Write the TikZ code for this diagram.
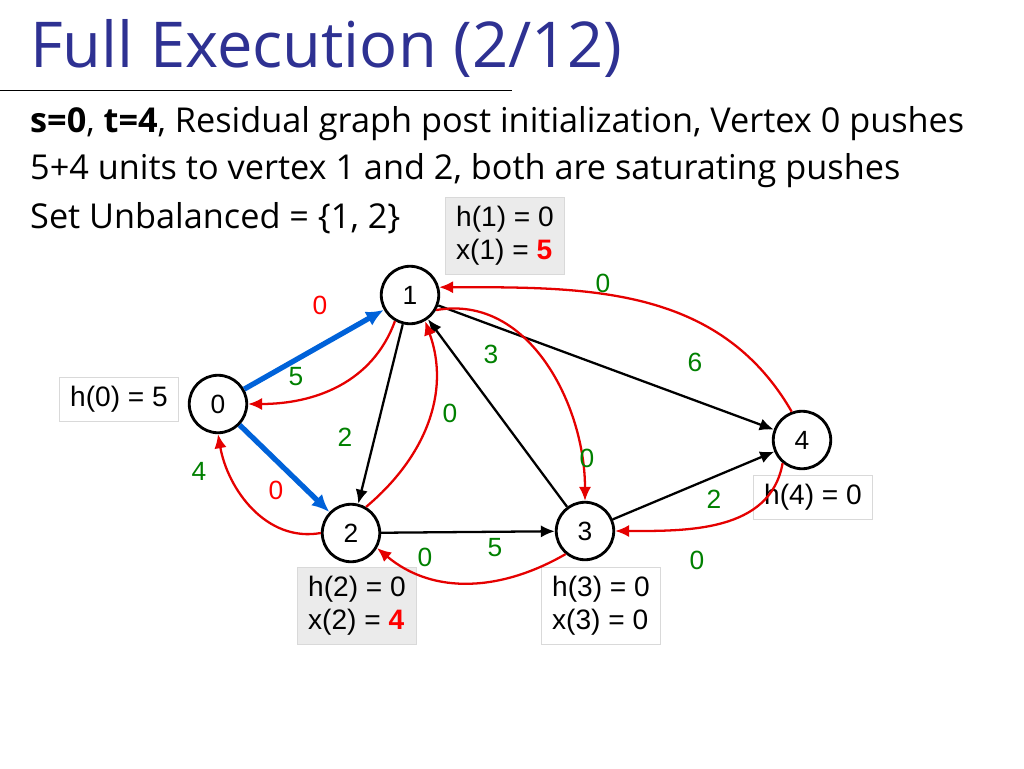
\documentclass[tikz,border=0pt]{standalone}
\usepackage{fontspec}
\setmainfont{Open Sans}
\newfontfamily\arialfont{Liberation Sans}
\usetikzlibrary{arrows.meta}
\begin{document}
\begin{tikzpicture}[x=0.02cm,y=-0.02cm,
    vertex/.style={circle,draw,line width=1.6pt,fill=white,minimum size=1.15cm,inner sep=0pt,font=\arialfont\fontsize{15}{15}\selectfont},
    info/.style={draw=black!15,fill=#1,align=left,font=\arialfont\fontsize{16}{19}\selectfont,inner xsep=6pt,inner ysep=5pt},
    info/.default=white,
    flow/.style={line width=3pt,draw=blue!55!cyan!85!black,-{Latex[length=10pt,width=9pt]}},
    edge/.style={line width=1.3pt,-{Latex[length=8pt,width=7pt]}},
    back/.style={line width=1.3pt,red!90!black,-{Latex[length=8pt,width=7pt]}},
    cap/.style={font=\arialfont\fontsize{15}{15}\selectfont,text=#1},
    cap/.default=green!50!black]

    \definecolor{titleblue}{RGB}{46,49,146}
    \useasboundingbox (0,0) rectangle (1024,768);

    % Title and underline
    \node[anchor=west,text=titleblue,font=\fontsize{36}{40}\selectfont] (title) at (24,48) {Full Execution (2/12)};
    \draw (0,90) -- (512,90);

    % Description
    \node[anchor=west,font=\fontsize{19.5}{22}\selectfont] (line1) at (24,124) {\textbf{s=0}, \textbf{t=4}, Residual graph post initialization, Vertex 0 pushes};
    \node[anchor=west,font=\fontsize{19.5}{22}\selectfont] (line2) at (24,171) {5+4 units to vertex 1 and 2, both are saturating pushes};
    \node[anchor=west,font=\fontsize{19.5}{22}\selectfont] (line3) at (24,218) {Set Unbalanced = \{1, 2\}};

    % Heights and excesses
    \node[info=black!8] (i1) at (505,236) {h(1) = 0\\x(1) = \textcolor{red}{\textbf{5}}};
    \node[info] (i0) at (119,399) {h(0) = 5};
    \node[info] (i4) at (813,497) {h(4) = 0};
    \node[info=black!8] (i2) at (357,606) {h(2) = 0\\x(2) = \textcolor{red}{\textbf{4}}};
    \node[info] (i3) at (601,606) {h(3) = 0\\x(3) = 0};

    % Vertices
    \node[vertex] (v0) at (218,404) {0};
    \node[vertex] (v1) at (410,295) {1};
    \node[vertex] (v2) at (351,533) {2};
    \node[vertex] (v3) at (585,531) {3};
    \node[vertex] (v4) at (802,440) {4};

    % Pushed flow
    \draw[flow] (v0) -- (v1);
    \draw[flow] (v0) -- (v2);

    % Residual forward edges
    \draw[edge] (v1) -- (v2);
    \draw[edge] (v1) -- (v4);
    \draw[edge] (v2) -- (v3);
    \draw[edge] (v3) -- (v1);
    \draw[edge] (v3) -- (v4);

    % Residual backward edges
    \draw[back] (v1.240) to[out=250,in=0] (v0.east);
    \draw[back] (v2.west) to[out=190,in=280] (v0.270);
    \draw[back] (v2.60) to[out=40,in=290] (v1.300);
    \draw[back] (v1.330) to[out=10,in=90] (v3.north);
    \draw[back] (v4.110) to[out=120,in=0] (v1.15);
    \draw[back] (v3.230) to[out=210,in=320] (v2.330);
    \draw[back] (v4.230) to[out=260,in=0] (v3.east);

    % Capacities
    \node[cap=red] (c01) at (320,305) {0};
    \node[cap] (c10) at (296,377) {5};
    \node[cap=red] (c02) at (276,490) {0};
    \node[cap] (c20) at (199,471) {4};
    \node[cap] (c12) at (345,437) {2};
    \node[cap] (c21) at (450,413) {0};
    \node[cap] (c31) at (491,354) {3};
    \node[cap] (c13) at (587,458) {0};
    \node[cap] (c14) at (695,362) {6};
    \node[cap] (c41) at (603,283) {0};
    \node[cap] (c34) at (714,499) {2};
    \node[cap] (c43) at (697,560) {0};
    \node[cap] (c23) at (495,548) {5};
    \node[cap] (c32) at (425,557) {0};

\end{tikzpicture}
\end{document}
